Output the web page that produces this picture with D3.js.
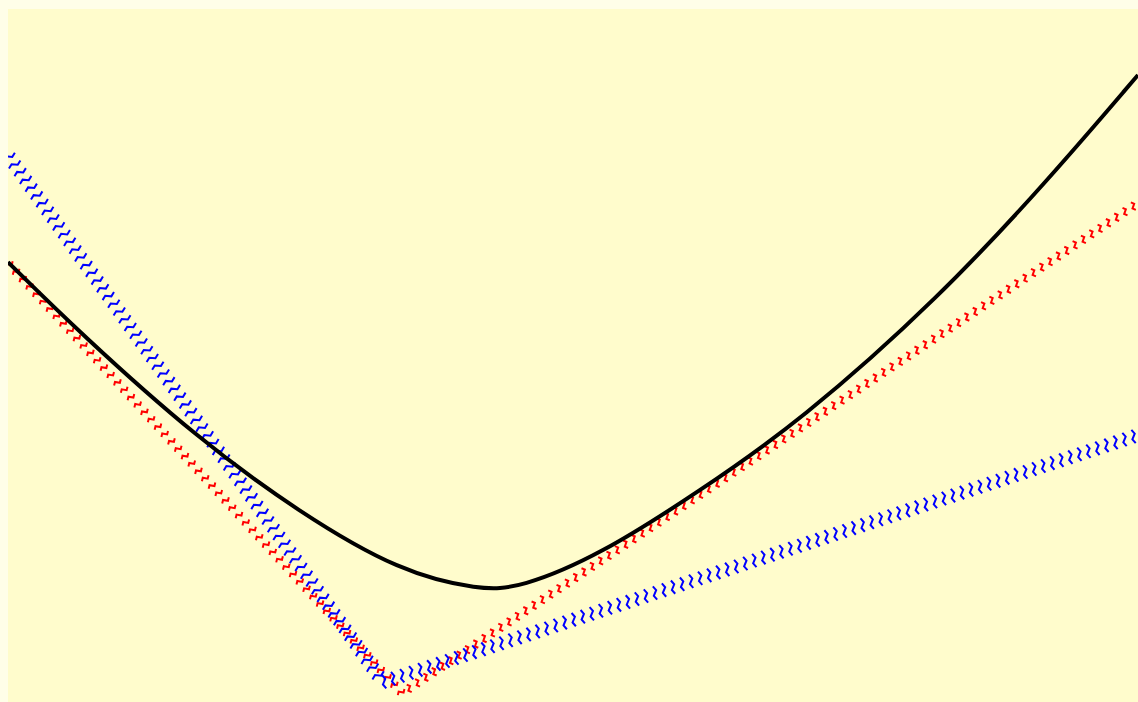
<!DOCTYPE html>
<html>
<head>
<meta charset="utf-8">
<script src="https://cdn.jsdelivr.net/npm/d3@7"></script>
<style>
  body { margin: 0; background: #fffee8; }
</style>
</head>
<body>
<div id="chart"></div>
<script>
// data
const smoothX = [-2, -1.745, -1.331, -0.966, -0.612, -0.329, -0.188, 0.096, 0.45, 0.804, 1.299, 1.688, 2];
const smoothY = [1.587, 1.331, 0.952, 0.682, 0.469, 0.404, 0.411, 0.53, 0.762, 1.012, 1.461, 1.89, 2.262];
const redX = [-2, -0.605, 2];
const redY = [1.584, 0.032, 1.8];
const blueX = [-2, -0.673, 2];
const blueY = [1.973, 0.072, 0.963];

const W = 1138, H = 702;
const margin = { top: 9, right: 0, bottom: 0, left: 8 };
const width = W - margin.left - margin.right;
const height = H - margin.top - margin.bottom;

const svg = d3.select("#chart").append("svg")
  .attr("width", W)
  .attr("height", H);

svg.append("rect")
  .attr("width", W).attr("height", H)
  .attr("fill", "#fffee8");

const g = svg.append("g")
  .attr("transform", `translate(${margin.left},${margin.top})`);

g.append("rect")
  .attr("width", width).attr("height", height)
  .attr("fill", "#fffccc");

g.append("clipPath").attr("id", "clip")
  .append("rect").attr("width", width).attr("height", height);

const x = d3.scaleLinear().domain([-2, 2]).range([0, width]);
const y = d3.scaleLinear().domain([0, 2.5]).range([height, 0]);

const plot = g.append("g").attr("clip-path", "url(#clip)");

// hatched line: small wavy ticks set across the path
function hatched(xs, ys, color, len, step) {
  const pts = xs.map((v, i) => [x(v), y(ys[i])]);
  const path = plot.append("path")
    .attr("d", d3.line()(pts))
    .attr("fill", "none")
    .attr("stroke", "none");
  const node = path.node();
  const total = node.getTotalLength();
  const marks = [];
  for (let s = 2; s < total; s += step) {
    const p = node.getPointAtLength(s);
    const a = node.getPointAtLength(Math.max(0, s - 1));
    const b = node.getPointAtLength(Math.min(total, s + 1));
    let tx = b.x - a.x, ty = b.y - a.y;
    const n = Math.hypot(tx, ty) || 1;
    tx /= n; ty /= n;
    const nx = -ty, ny = tx;
    const h = len / 2, j = 2;
    marks.push([
      [p.x - nx * h, p.y - ny * h],
      [p.x - nx * h / 3 + tx * j, p.y - ny * h / 3 + ty * j],
      [p.x + nx * h / 3 - tx * j, p.y + ny * h / 3 - ty * j],
      [p.x + nx * h, p.y + ny * h]
    ]);
  }
  plot.append("g").selectAll("path")
    .data(marks)
    .enter().append("path")
    .attr("d", d => d3.line()(d))
    .attr("fill", "none")
    .attr("stroke", color)
    .attr("stroke-width", 2);
}

hatched(redX, redY, "#ff0000", 9, 10);
hatched(blueX, blueY, "#0000ff", 14, 9.5);

plot.append("path")
  .datum(smoothX.map((v, i) => [v, smoothY[i]]))
  .attr("fill", "none")
  .attr("stroke", "#000")
  .attr("stroke-width", 4)
  .attr("d", d3.line().x(d => x(d[0])).y(d => y(d[1])).curve(d3.curveBasis));
</script>
</body>
</html>
